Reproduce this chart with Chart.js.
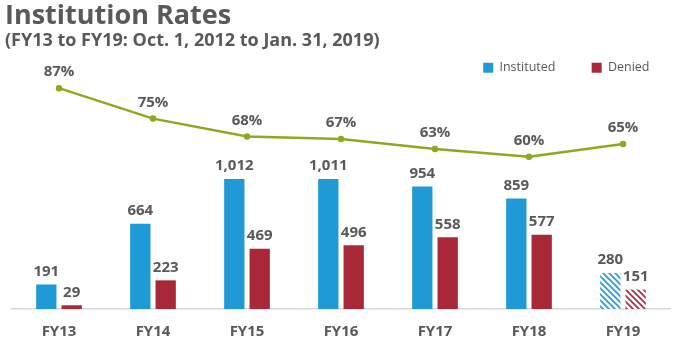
<!DOCTYPE html>
<html>
<head>
<meta charset="utf-8">
<script src="https://cdn.jsdelivr.net/npm/chart.js@4"></script>
<style>
  html, body { margin: 0; padding: 0; background: #fff; }
  #wrap { width: 680px; height: 344px; }
</style>
</head>
<body>
<div id="wrap"><canvas id="rates"></canvas></div>
<script>
// Chart data
const years = ['FY13', 'FY14', 'FY15', 'FY16', 'FY17', 'FY18', 'FY19'];
const instituted = [191, 664, 1012, 1011, 954, 859, 280];
const denied = [29, 223, 469, 496, 558, 577, 151];
const rates = [87, 75, 68, 67, 63, 60, 65];

const blue = '#1F9AD6';
const red = '#A8283A';
const green = '#8CAA1E';
const textGray = '#595959';
const font = '"Open Sans", sans-serif';

// Striped fill for the partial year
function stripes(color) {
    const c = document.createElement('canvas');
    c.width = 6;
    c.height = 6;
    const g = c.getContext('2d');
    g.fillStyle = '#fff';
    g.fillRect(0, 0, 6, 6);
    g.strokeStyle = color;
    g.lineWidth = 1.6;
    g.beginPath();
    g.moveTo(-1, -1); g.lineTo(7, 7);
    g.moveTo(-4, 2); g.lineTo(2, 8);
    g.moveTo(2, -4); g.lineTo(8, 2);
    g.stroke();
    return g.createPattern(c, 'repeat');
}

function barFill(color) {
    return years.map((y, i) => i === years.length - 1 ? stripes(color) : color);
}

// Draw value labels above bars and points
const valueLabels = {
    id: 'valueLabels',
    afterDatasetsDraw(chart) {
        const ctx = chart.ctx;
        ctx.save();
        ctx.fillStyle = textGray;
        ctx.font = 'bold 15px ' + font;
        ctx.textAlign = 'center';
        ctx.textBaseline = 'middle';
        chart.data.datasets.forEach((ds, di) => {
            const meta = chart.getDatasetMeta(di);
            meta.data.forEach((el, i) => {
                const v = ds.data[i];
                if (ds.type === 'line') {
                    ctx.fillText(v + '%', el.x, el.y - 16);
                } else {
                    ctx.fillText(v.toLocaleString('en-US'), el.x, el.y - 13);
                }
            });
        });
        ctx.restore();
    }
};

new Chart(document.getElementById('rates'), {
    data: {
        labels: years,
        datasets: [
            {
                type: 'line',
                label: 'Rate',
                data: rates,
                yAxisID: 'pct',
                borderColor: green,
                backgroundColor: green,
                borderWidth: 2.5,
                pointRadius: 2,
                tension: 0,
                order: 0
            },
            {
                type: 'bar',
                label: 'Instituted',
                data: instituted,
                yAxisID: 'count',
                backgroundColor: barFill(blue),
                categoryPercentage: 0.54,
                barPercentage: 0.8,
                order: 1
            },
            {
                type: 'bar',
                label: 'Denied',
                data: denied,
                yAxisID: 'count',
                backgroundColor: barFill(red),
                categoryPercentage: 0.54,
                barPercentage: 0.8,
                order: 1
            }
        ]
    },
    options: {
        responsive: true,
        maintainAspectRatio: false,
        animation: false,
        layout: { padding: { left: 5, right: 10, top: 3, bottom: 0 } },
        plugins: {
            title: {
                display: true,
                text: 'Institution Rates',
                align: 'start',
                color: textGray,
                font: { family: font, size: 27, weight: 'bold', lineHeight: 1.0 },
                padding: { top: 0, bottom: 0 }
            },
            subtitle: {
                display: true,
                text: '(FY13 to FY19: Oct. 1, 2012 to Jan. 31, 2019)',
                align: 'start',
                color: textGray,
                font: { family: font, size: 18, weight: 'bold', lineHeight: 1.2 },
                padding: { top: 0, bottom: 2 }
            },
            legend: {
                position: 'top',
                align: 'end',
                labels: {
                    boxWidth: 10,
                    boxHeight: 10,
                    color: textGray,
                    font: { family: font, size: 12.5 },
                    padding: 8,
                    generateLabels: chart => [
                        { text: 'Instituted\u2003\u2003 ', fillStyle: blue, strokeStyle: blue, lineWidth: 0, datasetIndex: 1, fontColor: textGray },
                        { text: 'Denied\u2003', fillStyle: red, strokeStyle: red, lineWidth: 0, datasetIndex: 2, fontColor: textGray }
                    ]
                }
            },
            tooltip: { enabled: false }
        },
        scales: {
            x: {
                grid: { display: false, drawTicks: false },
                border: { color: '#D9D9D9', width: 1.5 },
                ticks: {
                    color: textGray,
                    font: { family: font, size: 15, weight: 'bold' },
                    padding: 14
                },
                afterFit: scale => { scale.height = 35; }
            },
            count: {
                position: 'left',
                min: 0,
                max: 1750,
                grid: { display: false },
                border: { display: false },
                ticks: { display: false },
                afterFit: scale => { scale.width = 7; }
            },
            pct: {
                display: false,
                min: 0,
                max: 88.6
            }
        }
    },
    plugins: [valueLabels]
});
</script>
</body>
</html>
